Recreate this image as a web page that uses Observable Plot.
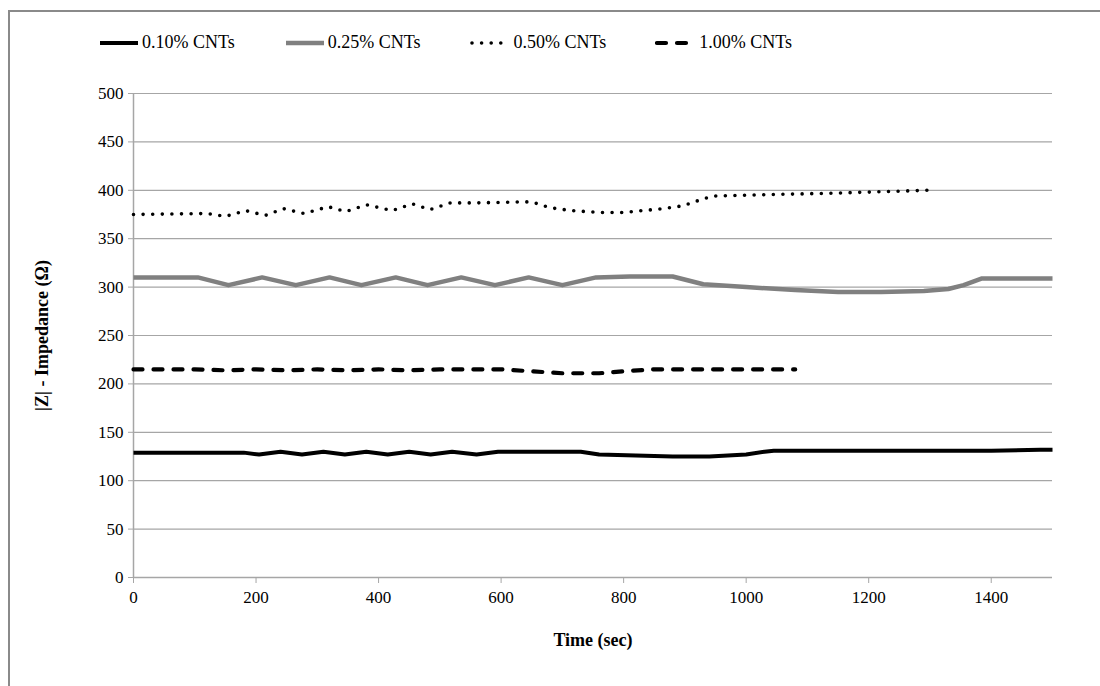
<!DOCTYPE html>
<html>
<head>
<meta charset="utf-8">
<script src="https://cdn.jsdelivr.net/npm/d3@7"></script>
<script src="https://cdn.jsdelivr.net/npm/@observablehq/plot@0.6"></script>
<style>
  html, body { margin: 0; padding: 0; background: #fff; overflow: hidden; width: 1100px; height: 686px; }
  #frame { position: absolute; left: 8px; top: 10px; width: 1100px; height: 700px; border: 2px solid #8a8a8a; box-sizing: border-box; }
  #legend { position: absolute; top: 32px; left: 98px; display: flex; align-items: center; gap: 49px;
            font-family: "Liberation Serif", "Times New Roman", serif; font-size: 18px; color: #000; }
  .item { display: flex; align-items: center; gap: 2px; white-space: nowrap; }
  #chart { position: absolute; left: 0; top: 70px; }
</style>
</head>
<body>
<div id="frame"></div>
<div id="legend"></div>
<div id="chart"></div>
<script>
// ---- data ----
const seriesNames = ["0.10% CNTs", "0.25% CNTs", "0.50% CNTs", "1.00% CNTs"];

const time010 = [0, 100, 180, 205, 240, 275, 310, 345, 380, 415, 450, 485, 520, 560, 595, 660, 730, 760, 820, 880, 940, 1000, 1030, 1045, 1200, 1400, 1480, 1500];
const imp010  = [129, 129, 129, 127, 130, 127, 130, 127, 130, 127, 130, 127, 130, 127, 130, 130, 130, 127, 126, 125, 125, 127, 130, 131, 131, 131, 132, 132];

const time025 = [0, 50, 105, 155, 210, 265, 320, 372, 428, 480, 535, 590, 645, 700, 755, 810, 880, 930, 1000, 1080, 1150, 1220, 1290, 1330, 1355, 1385, 1440, 1500];
const imp025  = [310, 310, 310, 302, 310, 302, 310, 302, 310, 302, 310, 302, 310, 302, 310, 311, 311, 303, 300, 297, 295, 295, 296, 298, 302, 309, 309, 309];

const time050 = [0, 120, 150, 183, 215, 245, 278, 318, 346, 381, 422, 455, 484, 517, 560, 636, 650, 680, 715, 764, 799, 831, 864, 897, 929, 946, 1000, 1141, 1296];
const imp050  = [375, 376, 373, 379, 374, 381, 376, 383, 378, 385, 379, 386, 380, 387, 387, 388, 388, 382, 379, 377, 377, 379, 381, 384, 391, 394, 395, 397, 400];

const time100 = [0, 100, 150, 200, 250, 300, 350, 400, 450, 500, 550, 600, 650, 700, 760, 800, 850, 950, 1080];
const imp100  = [215, 215, 214, 215, 214, 215, 214, 215, 214, 215, 215, 215, 213, 211, 211, 213, 215, 215, 215];

const xTicks = [0, 200, 400, 600, 800, 1000, 1200, 1400];
const yTicks = [0, 50, 100, 150, 200, 250, 300, 350, 400, 450, 500];

const styles = [
  {stroke: "#000000", strokeWidth: 4, dash: null, cap: "butt"},
  {stroke: "#808080", strokeWidth: 4.5, dash: null, cap: "butt"},
  {stroke: "#000000", strokeWidth: 3.6, dash: "0,9.6", cap: "round"},
  {stroke: "#000000", strokeWidth: 4.2, dash: "9,11", cap: "round"}
];

const toRows = (t, v) => t.map((x, i) => ({t: x, v: v[i]}));
const rows = [toRows(time010, imp010), toRows(time025, imp025), toRows(time050, imp050), toRows(time100, imp100)];

// ---- legend ----
const legend = document.getElementById("legend");
seriesNames.forEach((name, i) => {
  const s = styles[i];
  const item = document.createElement("div");
  item.className = "item";
  item.innerHTML = `<svg width="42" height="10"><line x1="2" y1="5" x2="40" y2="5" stroke="${s.stroke}" stroke-width="${s.strokeWidth}" stroke-linecap="${s.cap}" ${s.dash ? `stroke-dasharray="${s.dash}"` : ""}/></svg><span>${name}</span>`;
  legend.appendChild(item);
});

// ---- chart ----
const font = "Liberation Serif";
const lineMarks = rows.map((r, i) => Plot.line(r, {
  x: "t", y: "v", stroke: styles[i].stroke, strokeWidth: styles[i].strokeWidth,
  strokeDasharray: styles[i].dash ?? undefined, strokeLinecap: styles[i].cap, strokeLinejoin: "round",
  curve: "linear"
}));

const chart = Plot.plot({
  width: 1100,
  height: 600,
  marginTop: 23,
  marginBottom: 93,
  marginLeft: 133,
  marginRight: 48,
  style: {fontFamily: font, fontSize: "17px", color: "#000", background: "transparent"},
  x: {domain: [0, 1500]},
  y: {domain: [0, 500]},
  marks: [
    Plot.gridY(yTicks, {stroke: "#a6a6a6", strokeOpacity: 1, strokeWidth: 1.2}),
    Plot.ruleX([0], {stroke: "#a6a6a6", strokeWidth: 1.5}),
    Plot.ruleY([0], {stroke: "#a6a6a6", strokeWidth: 1.5}),
    Plot.axisY(yTicks, {tickSize: 5, tickPadding: 5, stroke: "#a6a6a6", fontSize: 17, fontFamily: font, fontVariant: "normal", tickFormat: d => String(d), label: null}),
    Plot.axisX(xTicks, {tickSize: 6, tickPadding: 7, stroke: "#a6a6a6", fontSize: 17, fontFamily: font, fontVariant: "normal", tickFormat: d => String(d), label: null}),
    Plot.text(["Time (sec)"], {frameAnchor: "bottom", dy: 68, fontWeight: "bold", fontSize: 18, fontFamily: font}),
    Plot.text(["|Z| - Impedance (Ω)"], {frameAnchor: "left", textAnchor: "middle", dx: -91, rotate: -90, fontWeight: "bold", fontSize: 18, fontFamily: font}),
    ...lineMarks
  ]
});
document.getElementById("chart").appendChild(chart);
</script>
</body>
</html>
